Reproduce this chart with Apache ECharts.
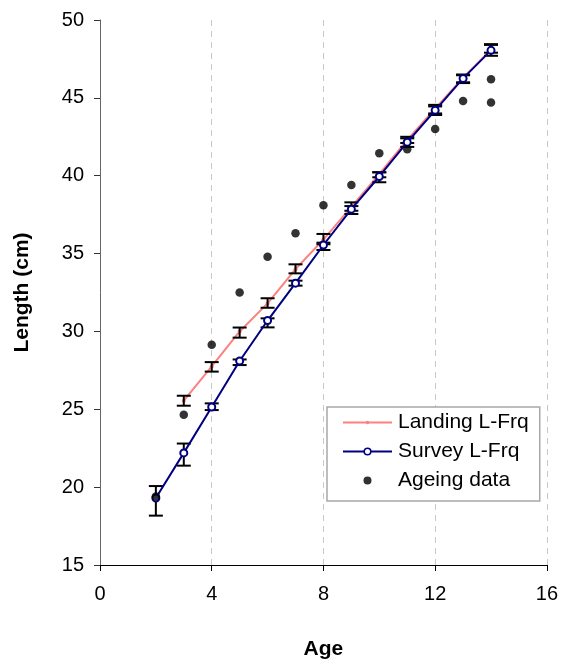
<!DOCTYPE html>
<html>
<head>
<meta charset="utf-8">
<script src="https://cdn.jsdelivr.net/npm/echarts@6/dist/echarts.min.js"></script>
<style>
html,body{margin:0;padding:0;background:#fff;}
#chart{width:561px;height:666px;}
</style>
</head>
<body>
<div id="chart"></div>
<script>
// ---- data ----
var landingAges = [3, 4, 5, 6, 7, 8, 9, 10, 11, 12, 13, 14];
var landingLen  = [25.55, 27.75, 30.0, 31.8, 34.0, 35.9, 38.0, 40.1, 42.3, 44.3, 46.3, 48.1];
var landingLow  = [25.23, 27.42, 29.6, 31.52, 33.73, 35.6, 37.75, 39.9, 42.1, 44.0, 46.0, 47.9];
var landingHigh = [25.87, 28.03, 30.25, 32.13, 34.31, 36.26, 38.29, 40.22, 42.5, 44.55, 46.5, 48.4];

var surveyAges = [2, 3, 4, 5, 6, 7, 8, 9, 10, 11, 12, 13, 14];
var surveyLen  = [19.3, 22.2, 25.15, 28.1, 30.7, 33.1, 35.55, 37.85, 39.95, 42.15, 44.2, 46.25, 48.05];
var surveyLow  = [18.17, 21.38, 24.95, 27.84, 30.26, 32.94, 35.23, 37.54, 39.58, 41.85, 43.9, 45.95, 47.7];
var surveyHigh = [20.07, 22.8, 25.38, 28.2, 30.84, 33.26, 35.7, 38.05, 40.22, 42.4, 44.45, 46.45, 48.45];

var ageingAges = [2, 3, 4, 5, 6, 7, 8, 9, 10, 11, 12, 13, 14, 14];
var ageingLen  = [19.4, 24.65, 29.15, 32.5, 34.8, 36.3, 38.1, 39.4, 41.45, 41.7, 43.0, 44.8, 46.2, 44.7];

var xTicks = { min: 0, max: 16, interval: 4 };
var yTicks = { min: 15, max: 50, interval: 5 };

// ---- build ----
function zip2(a, b) { return a.map(function (v, i) { return [v, b[i]]; }); }
function zip3(a, b, c) { return a.map(function (v, i) { return [v, b[i], c[i]]; }); }

function errRender(params, api) {
  var x = api.value(0);
  var lo = api.coord([x, api.value(1)]);
  var hi = api.coord([x, api.value(2)]);
  var hw = 7;
  var st = { stroke: '#000', lineWidth: 2, fill: null };
  return {
    type: 'group',
    children: [
      { type: 'line', shape: { x1: lo[0], y1: lo[1], x2: hi[0], y2: hi[1] }, style: st },
      { type: 'line', shape: { x1: lo[0] - hw, y1: lo[1], x2: lo[0] + hw, y2: lo[1] }, style: st },
      { type: 'line', shape: { x1: hi[0] - hw, y1: hi[1], x2: hi[0] + hw, y2: hi[1] }, style: st }
    ]
  };
}

function svgIcon(inner) {
  return 'image://data:image/svg+xml;utf8,' + encodeURIComponent(
    '<svg xmlns="http://www.w3.org/2000/svg" width="49" height="14" viewBox="0 0 49 14">' + inner + '</svg>');
}
var landingIcon = svgIcon('<line x1="0" y1="7" x2="49" y2="7" stroke="#ff8080" stroke-width="2"/><circle cx="24.5" cy="7" r="1.8" fill="#ff8080"/>');
var surveyIcon  = svgIcon('<line x1="0" y1="7" x2="49" y2="7" stroke="#000080" stroke-width="2"/><circle cx="24.5" cy="7" r="3.3" fill="#fff" stroke="#000080" stroke-width="1.6"/>');
var ageingIcon  = svgIcon('<circle cx="24.5" cy="7" r="4" fill="#000"/>');

var font = 'Liberation Sans, Arial, sans-serif';
var chart = echarts.init(document.getElementById('chart'), null, { renderer: 'canvas' });
chart.setOption({
  animation: false,
  backgroundColor: '#fff',
  textStyle: { fontFamily: font },
  grid: { left: 100, right: 13, top: 20, bottom: 101, containLabel: false },
  xAxis: {
    type: 'value', min: xTicks.min, max: xTicks.max, interval: xTicks.interval,
    name: 'Age', nameLocation: 'middle', nameGap: 74,
    nameTextStyle: { fontFamily: font, fontSize: 21, fontWeight: 'bold', color: '#000' },
    axisLine: { onZero: false, lineStyle: { color: '#000', width: 1 } },
    axisTick: { show: true, length: 6, lineStyle: { color: '#000' } },
    axisLabel: { fontFamily: font, fontSize: 20, color: '#000', margin: 19 },
    splitLine: { show: true, lineStyle: { color: '#c8c8c8', type: [6, 5], width: 1 } }
  },
  yAxis: {
    type: 'value', min: yTicks.min, max: yTicks.max, interval: yTicks.interval,
    name: 'Length (cm)', nameLocation: 'middle', nameGap: 67, nameRotate: 90,
    nameTextStyle: { fontFamily: font, fontSize: 21, fontWeight: 'bold', color: '#000' },
    axisLine: { show: true, onZero: false, lineStyle: { color: '#666', width: 1 } },
    axisTick: { show: true, length: 6, lineStyle: { color: '#333' } },
    axisLabel: { fontFamily: font, fontSize: 20, color: '#000', margin: 16 },
    splitLine: { show: false }
  },
  legend: {
    orient: 'vertical', left: 327, top: 407,
    padding: [5, 11, 10, 16],
    itemWidth: 49, itemHeight: 14, itemGap: 8,
    backgroundColor: '#fff', borderColor: '#a8a8a8', borderWidth: 1.5, borderRadius: 0,
    textStyle: { fontFamily: font, fontSize: 21, color: '#000', lineHeight: 21, padding: [0, 0, 0, 1] },
    data: [
      { name: 'Landing L-Frq', icon: landingIcon },
      { name: 'Survey L-Frq', icon: surveyIcon },
      { name: 'Ageing data', icon: ageingIcon }
    ]
  },
  series: [
    {
      name: 'Landing L-Frq', type: 'line', data: zip2(landingAges, landingLen),
      symbol: 'circle', symbolSize: 4, showSymbol: true,
      lineStyle: { color: '#ff8080', width: 2 },
      itemStyle: { color: '#ff8080' }, z: 2
    },
    {
      name: 'Survey L-Frq', type: 'line', data: zip2(surveyAges, surveyLen),
      symbol: 'circle', symbolSize: 7, showSymbol: true,
      lineStyle: { color: '#000080', width: 2 },
      itemStyle: { color: '#fff', borderColor: '#000080', borderWidth: 2 }, z: 5
    },
    {
      name: 'Landing err', type: 'custom', renderItem: errRender,
      data: zip3(landingAges, landingLow, landingHigh), z: 3, silent: true
    },
    {
      name: 'Survey err', type: 'custom', renderItem: errRender,
      data: zip3(surveyAges, surveyLow, surveyHigh), z: 3, silent: true
    },
    {
      name: 'Ageing data', type: 'scatter', data: zip2(ageingAges, ageingLen),
      symbol: 'circle', symbolSize: 8.5,
      itemStyle: { color: '#000' }, z: 6
    }
  ]
});
</script>
</body>
</html>
